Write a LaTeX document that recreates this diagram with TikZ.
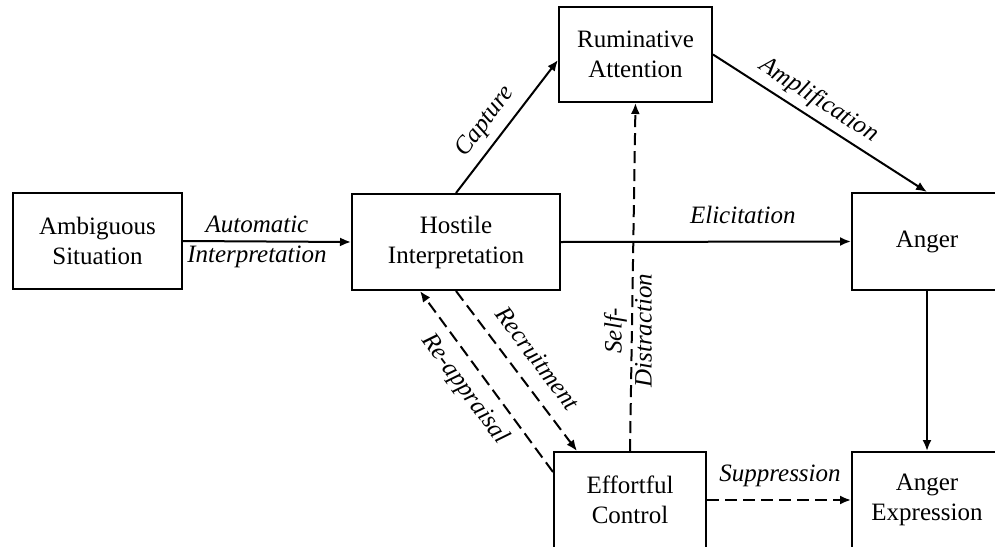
\documentclass[tikz,border=0pt]{standalone}
\usepackage{fontspec}
\setmainfont{Liberation Serif}
\usetikzlibrary{arrows.meta,calc}
\begin{document}
\begin{tikzpicture}[x=1pt,y=-1pt,
  box/.style={draw, line width=2pt, align=center, inner sep=0pt, font=\fontsize{25}{30}\selectfont},
  lab/.style={font=\fontsize{25}{30}\selectfont\itshape, inner sep=0pt, align=center},
  arr/.style={line width=2pt, -{Latex[length=11pt,width=9pt]}},
  dsh/.style={arr, dash pattern=on 12pt off 6pt},
]
\useasboundingbox (0,0) rectangle (995,546);
\clip (0,0) rectangle (995,546);
\node[box, minimum width=169pt, minimum height=96pt] (amb) at (97.5,241) {Ambiguous\\Situation};
\node[box, minimum width=208pt, minimum height=96pt] (hos) at (456,242) {Hostile\\Interpretation};
\node[box, minimum width=153pt, minimum height=95pt] (rum) at (635.5,54.5) {Ruminative\\Attention};
\node[box, minimum width=150pt, minimum height=97pt] (ang) at (927,241.5) {Anger};
\node[box, minimum width=152pt, minimum height=96pt] (eff) at (630,500) {Effortful\\Control};
\node[box, minimum width=150pt, minimum height=96pt] (aex) at (927,500) {Anger\\Expression};

\coordinate (capend) at ($(rum.west)+(0,5.5)$);
\coordinate (recend) at ($(eff.north west)+(24,0)$);
\coordinate (reastart) at ($(eff.west)+(0,-28)$);
\coordinate (reaend) at ($(hos.south)+(-36,0)$);

\draw[arr] (amb.east) -- node[lab, pos=.44] (lauto) {Automatic\\Interpretation} (hos.west);
\draw[arr] (hos.north) -- node[lab, sloped, pos=.445, above=8pt] (lcap) {Capture} (capend);
\draw[arr] (rum.east) -- node[lab, sloped, pos=.447, above=6pt] (lamp) {Amplification} (ang.north);
\draw[arr] (hos.east) -- node[lab, pos=.627, above=17pt] (leli) {Elicitation} (ang.west);
\draw[arr] (ang.south) -- (aex.north);
\draw[dsh] (hos.south) -- node[lab, sloped, pos=.512, above=15pt] (lrec) {Recruitment} (recend);
\draw[dsh] (reastart) -- (reaend);
\path (reaend) -- node[lab, sloped, pos=.47, below=10.6pt] (lrea) {Re-appraisal} (reastart);
\draw[dsh] (eff.north) -- (rum.south);
\node[lab, rotate=90] (lsd) at ($(eff.north)!0.346!(rum.south)+(-4,0)$) {Self-\\Distraction};
\draw[dsh] (eff.east) -- node[lab, pos=.507, above=12.6pt] (lsup) {Suppression} (aex.west);
\end{tikzpicture}
\end{document}
